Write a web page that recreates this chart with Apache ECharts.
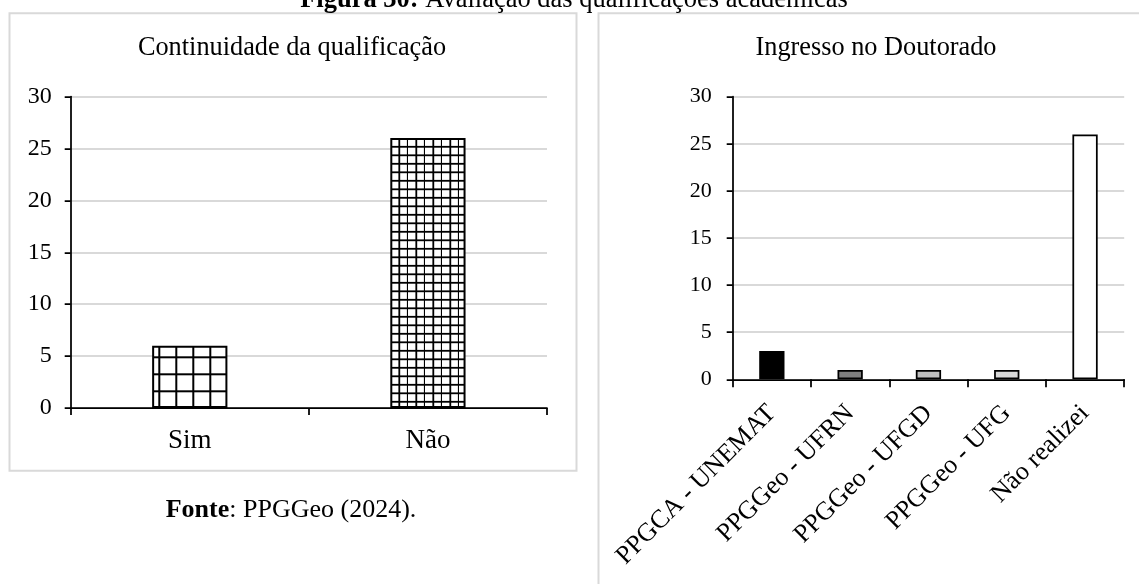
<!DOCTYPE html>
<html>
<head>
<meta charset="utf-8">
<script src="https://cdn.jsdelivr.net/npm/echarts@6/dist/echarts.min.js"></script>
<style>
  html, body { margin: 0; padding: 0; background: #fff; }
  #chart { width: 1139px; height: 584px; }
</style>
</head>
<body>
<div id="chart"></div>
<script>
// ---- Data ----
var figureCaptionBold = 'Figura 30:';
var figureCaptionText = ' Avaliação das qualificações acadêmicas';
var sourceBold = 'Fonte';
var sourceText = ': PPGGeo (2024).';

var leftTitle = 'Continuidade da qualificação';
var leftCategories = ['Sim', 'Não'];
var leftValues = [6, 26];

var rightTitle = 'Ingresso no Doutorado';
var rightCategories = ['PPGCA - UNEMAT', 'PPGGeo - UFRN', 'PPGGeo - UFGD', 'PPGGeo - UFG', 'Não realizei'];
var rightValues = [3, 1, 1, 1, 26];
var rightColors = ['#000000', '#7f7f7f', '#bfbfbf', '#d9d9d9', '#ffffff'];

var yTicks = { min: 0, max: 30, interval: 5 };

// ---- Patterns ----
function gridPattern(size, lines, offX, offY, lw) {
  var c = document.createElement('canvas');
  c.width = size; c.height = size;
  var ctx = c.getContext('2d');
  ctx.fillStyle = '#ffffff';
  ctx.fillRect(0, 0, size, size);
  ctx.fillStyle = '#000000';
  lines.forEach(function (p) {
    var px = ((p + offX) % size + size) % size;
    var py = ((p + offY) % size + size) % size;
    ctx.fillRect(px - lw / 2, 0, lw, size);
    ctx.fillRect(0, py - lw / 2, size, lw);
    if (px - lw / 2 < 0) ctx.fillRect(px - lw / 2 + size, 0, lw, size);
    if (py - lw / 2 < 0) ctx.fillRect(0, py - lw / 2 + size, size, lw);
  });
  return { image: c, repeat: 'repeat' };
}
var largeGrid = gridPattern(17, [0], 6.3, 0.3, 2);
var smallGrid = gridPattern(17, [0, 8.5], 8.3, 2.3, 1.8);

var FONT = '"Liberation Serif", "Times New Roman", serif';

var chart = echarts.init(document.getElementById('chart'), null, { renderer: 'canvas' });

function yAxisCfg(gridIndex, fs, margin, tickLen) {
  return {
    type: 'value', gridIndex: gridIndex,
    min: yTicks.min, max: yTicks.max, interval: yTicks.interval,
    axisLine: { show: true, lineStyle: { color: '#000', width: 1.75 } },
    axisTick: { show: true, length: tickLen, lineStyle: { color: '#000', width: 1.75 } },
    axisLabel: { color: '#000', fontFamily: FONT, fontSize: fs, margin: margin },
    splitLine: { show: true, lineStyle: { color: '#d9d9d9', width: 2 } }
  };
}

var option = {
  animation: false,
  backgroundColor: '#ffffff',
  grid: [
    { left: 70.7, right: 1139 - 547, top: 96.5, bottom: 584 - 408 },
    { left: 732.7, right: 1139 - 1124.2, top: 96.7, bottom: 584 - 379.3 }
  ],
  xAxis: [
    {
      type: 'category', gridIndex: 0, data: leftCategories,
      axisLine: { lineStyle: { color: '#000', width: 1.75 } },
      axisTick: { show: true, length: 7, lineStyle: { color: '#000', width: 1.75 } },
      axisLabel: { color: '#000', fontFamily: FONT, fontSize: 27, margin: 19 }
    },
    {
      type: 'category', gridIndex: 1, data: rightCategories,
      axisLine: { lineStyle: { color: '#000', width: 1.75 } },
      axisTick: { show: true, length: 8, lineStyle: { color: '#000', width: 1.75 } },
      axisLabel: { color: '#000', fontFamily: FONT, fontSize: 26, margin: 30, rotate: 45, interval: 0 }
    }
  ],
  yAxis: [
    yAxisCfg(0, 24, 19, 6),
    yAxisCfg(1, 22, 21, 6)
  ],
  series: [
    {
      type: 'bar', xAxisIndex: 0, yAxisIndex: 0, barWidth: '31.6%',
      data: leftValues.map(function (v, i) {
        return { value: v, itemStyle: { color: i === 0 ? largeGrid : smallGrid, borderColor: '#000', borderWidth: 2 } };
      })
    },
    {
      type: 'bar', xAxisIndex: 1, yAxisIndex: 1, barWidth: '32.3%',
      data: rightValues.map(function (v, i) {
        return { value: v, itemStyle: { color: rightColors[i], borderColor: '#000', borderWidth: 1.75 } };
      })
    }
  ],
  graphic: [
    { type: 'rect', silent: true, z: -1, shape: { x: 9.5, y: 13.3, width: 567, height: 457.4 },
      style: { fill: 'none', stroke: '#d9d9d9', lineWidth: 2 } },
    { type: 'rect', silent: true, z: -1, shape: { x: 598.5, y: 13.3, width: 600, height: 620 },
      style: { fill: 'none', stroke: '#d9d9d9', lineWidth: 2 } },
    { type: 'text', silent: true, x: 292, y: 48.5,
      style: { text: leftTitle, font: '26.3px ' + FONT, fill: '#000', align: 'center', verticalAlign: 'middle' } },
    { type: 'text', silent: true, x: 876, y: 48.5,
      style: { text: rightTitle, font: '26.3px ' + FONT, fill: '#000', align: 'center', verticalAlign: 'middle' } },
    { type: 'text', silent: true, x: 574, y: 0.3,
      style: { text: '{b|' + figureCaptionBold + '}{r|' + figureCaptionText + '}', align: 'center', verticalAlign: 'middle',
        rich: { b: { fontFamily: FONT, fontSize: 26.5, fontWeight: 'bold', fill: '#000' },
                r: { fontFamily: FONT, fontSize: 26.5, fill: '#000' } } } },
    { type: 'text', silent: true, x: 291, y: 510.5,
      style: { text: '{b|' + sourceBold + '}{r|' + sourceText + '}', align: 'center', verticalAlign: 'middle',
        rich: { b: { fontFamily: FONT, fontSize: 26, fontWeight: 'bold', fill: '#000' },
                r: { fontFamily: FONT, fontSize: 26, fill: '#000' } } } }
  ]
};
chart.setOption(option);
</script>
</body>
</html>
